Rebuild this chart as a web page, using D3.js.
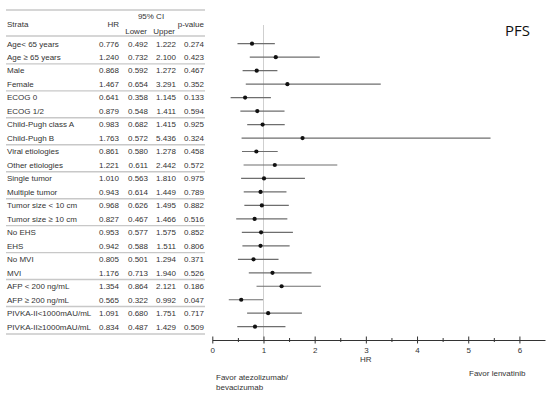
<!DOCTYPE html>
<html>
<head>
<meta charset="utf-8">
<script src="https://cdn.jsdelivr.net/npm/d3@7"></script>
<style>
  body { margin: 0; background: #fff; }
  text { font-family: "Liberation Sans", Arial, sans-serif; fill: #333; }
</style>
</head>
<body>
<div id="chart"></div>
<script>
var svgWidth = 550;
var svgHeight = 393;

// data
var strata = ["Age< 65 years", "Age \u2265 65 years", "Male", "Female", "ECOG 0", "ECOG 1/2",
  "Child-Pugh class A", "Child-Pugh B", "Viral etiologies", "Other etiologies",
  "Single tumor", "Multiple tumor", "Tumor size < 10 cm", "Tumor size \u2265 10 cm",
  "No EHS", "EHS", "No MVI", "MVI", "AFP < 200 ng/mL", "AFP \u2265 200 ng/mL",
  "PIVKA-II<1000mAU/mL", "PIVKA-II\u22651000mAU/mL"];
var hr = [0.776, 1.240, 0.868, 1.467, 0.641, 0.879, 0.983, 1.763, 0.861, 1.221, 1.010,
  0.943, 0.968, 0.827, 0.953, 0.942, 0.805, 1.176, 1.354, 0.565, 1.091, 0.834];
var lower = [0.492, 0.732, 0.592, 0.654, 0.358, 0.548, 0.682, 0.572, 0.580, 0.611, 0.563,
  0.614, 0.626, 0.467, 0.577, 0.588, 0.501, 0.713, 0.864, 0.322, 0.680, 0.487];
var upper = [1.222, 2.100, 1.272, 3.291, 1.145, 1.411, 1.415, 5.436, 1.278, 2.442, 1.810,
  1.449, 1.495, 1.466, 1.575, 1.511, 1.294, 1.940, 2.121, 0.992, 1.751, 1.429];
var pval = [0.274, 0.423, 0.467, 0.352, 0.133, 0.594, 0.925, 0.324, 0.458, 0.572, 0.975,
  0.789, 0.882, 0.516, 0.852, 0.806, 0.371, 0.526, 0.186, 0.047, 0.717, 0.509];
var majorTicks = [0, 1, 2, 3, 4, 5, 6];
var minorTicks = [0.5, 1.5, 2.5, 3.5, 4.5, 5.5];

var rows = strata.map(function(s, i) {
  return { strata: s, hr: hr[i], lower: lower[i], upper: upper[i], p: pval[i] };
});

var svg = d3.select("#chart")
  .append("svg")
  .attr("width", svgWidth)
  .attr("height", svgHeight);

// scales
var yScale = d3.scalePoint()
  .domain(strata)
  .range([43.7, 326.7]);
var step = yScale.step();

var xScale = d3.scaleLinear()
  .domain([0, 6.5])
  .range([212.3, 545]);

var fs = 8;
var txt = "#333";
var cols = { hr: 119, lower: 148, upper: 176, p: 204 };

// table rules
var ruleYs = [10, 36, 334];
for (var k = 1; k < strata.length / 2; k++) {
  ruleYs.push(yScale(strata[2 * k - 1]) + step / 2);
}
svg.selectAll("line.rule")
  .data(ruleYs)
  .enter()
  .append("line")
  .attr("class", "rule")
  .attr("x1", 6).attr("x2", 205)
  .attr("y1", d => d).attr("y2", d => d)
  .attr("stroke", "#c8c8c8")
  .attr("stroke-width", 1.4);

// header
var header = svg.append("g").style("font-size", fs + "px").attr("fill", txt);
header.append("text").attr("x", 7).attr("y", 27).text("Strata");
header.append("text").attr("x", cols.hr).attr("y", 27).attr("text-anchor", "end").text("HR");
header.append("text").attr("x", 151).attr("y", 19).attr("text-anchor", "middle").text("95% CI");
header.append("text").attr("x", cols.lower - 1).attr("y", 34).attr("text-anchor", "end").text("Lower");
header.append("text").attr("x", cols.upper - 1).attr("y", 34).attr("text-anchor", "end").text("Upper");
header.append("text").attr("x", cols.p).attr("y", 27).attr("text-anchor", "end").text("p-value");

// table body
var rowG = svg.selectAll("g.row")
  .data(rows)
  .enter()
  .append("g")
  .attr("class", "row")
  .attr("transform", d => `translate(0, ${yScale(d.strata)})`)
  .style("font-size", fs + "px");

rowG.append("text").attr("x", 7).attr("dy", "0.35em").text(d => d.strata);
rowG.append("text").attr("x", cols.hr).attr("dy", "0.35em").attr("text-anchor", "end").text(d => d.hr.toFixed(3));
rowG.append("text").attr("x", cols.lower).attr("dy", "0.35em").attr("text-anchor", "end").text(d => d.lower.toFixed(3));
rowG.append("text").attr("x", cols.upper).attr("dy", "0.35em").attr("text-anchor", "end").text(d => d.upper.toFixed(3));
rowG.append("text").attr("x", cols.p).attr("dy", "0.35em").attr("text-anchor", "end").text(d => d.p.toFixed(3));

// reference line at HR = 1
svg.append("line")
  .attr("x1", xScale(1)).attr("x2", xScale(1))
  .attr("y1", 25).attr("y2", 340)
  .attr("stroke", "#cfcfcf")
  .attr("stroke-width", 1);

// CI lines and points
svg.selectAll("line.ci")
  .data(rows)
  .enter()
  .append("line")
  .attr("class", "ci")
  .attr("x1", d => xScale(d.lower))
  .attr("x2", d => xScale(d.upper))
  .attr("y1", d => yScale(d.strata))
  .attr("y2", d => yScale(d.strata))
  .attr("stroke", "#6e6e6e")
  .attr("stroke-width", 1.2);

svg.selectAll("circle.pt")
  .data(rows)
  .enter()
  .append("circle")
  .attr("class", "pt")
  .attr("cx", d => xScale(d.hr))
  .attr("cy", d => yScale(d.strata))
  .attr("r", 2.1)
  .attr("fill", "#111");

// axis
var axisY = 340;
var bottomAxis = d3.axisBottom(xScale)
  .tickValues(majorTicks)
  .tickFormat(d3.format("d"))
  .tickSize(3.5)
  .tickSizeOuter(0);

var axisG = svg.append("g")
  .attr("transform", `translate(0, ${axisY})`)
  .call(bottomAxis);
axisG.select(".domain").attr("stroke", "#333");
axisG.selectAll(".tick line").attr("y1", -3.5).attr("stroke", "#333");
axisG.selectAll(".tick text")
  .attr("y", 7)
  .style("font-family", "Liberation Sans, Arial, sans-serif")
  .style("font-size", fs + "px")
  .style("fill", txt);

var minorAxis = d3.axisBottom(xScale)
  .tickValues(minorTicks)
  .tickFormat("")
  .tickSize(2)
  .tickSizeOuter(0);
var minorG = svg.append("g")
  .attr("transform", `translate(0, ${axisY})`)
  .call(minorAxis);
minorG.select(".domain").remove();
minorG.selectAll(".tick line").attr("y1", -2).attr("stroke", "#333");

// axis title and favour labels
var notes = svg.append("g").style("font-size", fs + "px");
notes.append("text")
  .attr("x", xScale(3)).attr("y", 362)
  .attr("text-anchor", "middle")
  .style("fill", txt)
  .text("HR");
notes.append("text")
  .attr("x", 216).attr("y", 379.5)
  .style("fill", txt)
  .text("Favor atezolizumab/");
notes.append("text")
  .attr("x", 216).attr("y", 389.5)
  .style("fill", txt)
  .text("bevacizumab");
notes.append("text")
  .attr("x", 469).attr("y", 376)
  .style("fill", txt)
  .text("Favor lenvatinib");

// panel title
svg.append("text")
  .attr("x", 505).attr("y", 36)
  .style("font-family", "Open Sans, sans-serif")
  .style("font-size", "15px")
  .style("fill", "#111")
  .text("PFS");
</script>
</body>
</html>
